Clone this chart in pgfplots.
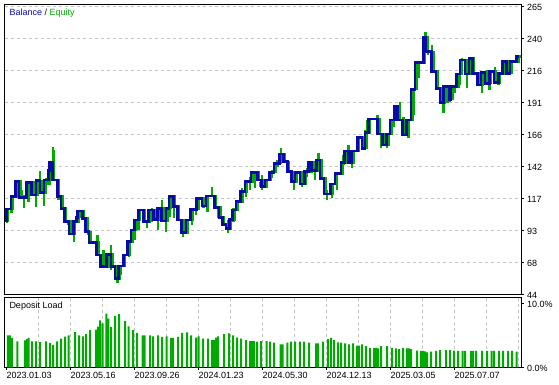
\documentclass[border=0pt]{standalone}
\usepackage{fontspec}
\setmainfont{Liberation Sans}
\usepackage{pgfplots}
\pgfplotsset{compat=1.18}
\usepackage{pgfplotstable}

\definecolor{balblue}{RGB}{10,10,165}
\definecolor{eqgreen}{RGB}{0,170,0}
\definecolor{gridgray}{RGB}{195,195,195}

\pgfplotstableread{
x v
5.5 100.0
6.5 109.2
11 118.8
15.7 130.2
19 118.2
26.7 129.4
31.7 120.0
36 130.9
40 121.7
44 131.5
48.3 138.6
49.3 144.8
52.3 131.5
57.3 118.7
61 109.8
64.3 99.5
69 90.0
73.3 99.5
76.7 102.9
77.7 107.7
82.3 102.1
85.7 91.8
89 83.4
96.7 73.9
100.7 65.0
106.7 74.5
111 65.0
115 56.0
118.3 65.5
123.3 73.9
127.7 84.1
131 93.1
134.3 100.8
138.3 108.5
143.3 99.5
148.3 108.5
153.3 101.3
157.7 109.8
161.7 100.0
166 109.8
169 118.7
173.3 111.0
177.3 100.8
181.7 91.3
186 100.8
190.7 109.0
196.7 117.4
202 111.5
206 119.2
214.3 110.5
219 102.9
222.3 97.2
226 94.1
229.3 101.3
232.7 108.5
236 114.8
240.7 122.5
245 130.2
251 137.1
257.3 131.5
261.7 126.3
265 131.5
269.3 137.4
274 144.3
279.3 151.4
283.3 145.5
287.3 137.8
291.7 130.2
295 137.1
300 128.4
304.3 137.8
308.3 144.8
311.7 138.6
316.7 146.8
320 132.8
324 120.7
330.7 128.4
335 136.6
341 144.8
344.3 153.7
348.3 144.8
351.7 153.7
357.3 164.2
362 155.8
365 167.8
368.3 178.3
377.7 166.8
382.3 158.3
386.7 166.8
390 177.5
394.3 188.3
397.7 177.5
402.3 166.0
406.7 177.5
411 201.1
415 221.5
423.3 241.0
426 229.9
431.7 214.6
436 201.8
440 190.8
443.3 203.1
449 193.4
451 203.1
456.7 212.8
460 223.6
465 212.8
469 224.9
472.3 213.4
477.3 204.4
481 213.8
485 205.7
489.3 214.6
494 206.1
498.3 213.4
502.3 222.3
506.7 213.4
510 222.3
516.7 226.1
519 226.1
}\balance

\pgfplotstableread{
x lo hi
7 98.5 110.0
11.7 106.4 119.2
20 117.7 131.5
21.7 116.9 123.8
24 110.2 120.0
28.3 114.8 127.6
36 111.0 123.8
40 122.3 138.6
44 111.5 127.6
46.5 127.6 133.0
49.3 127.6 139.2
52.7 141.5 156.6
53.7 139.2 154.5
58.3 116.1 120.0
68.3 96.9 100.8
74 84.1 99.3
79 99.3 106.9
86.7 91.6 102.3
88 89.3 96.9
97.5 79.3 89.3
103.3 65.0 77.8
111 62.4 81.6
117.5 52.2 65.0
120.5 58.6 65.5
129 72.4 83.1
135 85.4 93.1
138.3 93.1 100.8
146.7 94.6 98.5
151.7 99.5 110.0
157.7 93.1 101.6
161.7 103.3 116.1
165.7 91.8 102.3
170 103.3 120.0
174 102.1 111.0
183 88.0 98.5
186.5 90.8 96.9
191.7 96.9 108.5
196 104.6 116.9
203.3 109.8 118.7
207.3 107.2 117.4
211.7 118.7 126.3
218.3 102.1 111.5
228 90.6 100.8
233.3 99.5 109.8
236.7 108.5 113.6
241.7 116.1 125.1
246 118.7 128.9
250 123.8 134.0
255 125.1 137.8
260 126.3 130.2
261.7 123.8 135.3
266.7 126.3 131.5
271.7 132.8 139.2
277.5 141.7 146.8
280.7 145.5 155.8
286.7 139.2 146.8
294 123.8 132.8
301.7 126.3 131.5
306.7 134.0 140.5
311.7 136.6 145.5
315 131.5 140.5
318.3 143.0 152.0
321 131.5 141.7
326.7 116.1 123.8
331.7 117.4 126.3
336.7 123.8 136.6
343.3 143.0 150.7
348.3 144.3 158.3
351.7 140.5 146.8
356.7 153.2 160.9
358.3 154.5 164.7
365 159.6 169.8
367.5 168.3 177.5
377.5 169.8 181.4
381 155.8 167.3
386.7 155.8 163.5
393.3 172.4 177.5
399.7 180.1 191.6
403.3 169.8 180.1
408.3 163.5 172.4
414 181.4 201.8
418.3 209.5 221.0
425.5 228.7 245.3
428 227.4 235.1
431.7 221.0 235.1
437.5 200.5 215.9
443.3 182.7 198.0
447.5 190.3 204.4
449.5 191.6 200.5
454.5 198.0 203.1
459.5 204.4 213.4
461.7 215.9 224.9
466.7 201.8 213.4
471.7 212.1 224.9
478.3 204.4 213.4
481.7 198.0 210.7
486.7 204.4 215.9
489.3 200.5 213.4
495 208.2 218.4
498.3 204.4 213.4
503.3 212.1 222.3
508.3 213.4 223.6
512 217.2 222.3
517.3 223.6 227.4
}\spikes

\pgfplotsset{
  mtstyle/.style={
    scale only axis, width=516pt,
    xmin=5, xmax=521,
    axis line style={line width=1pt, black},
    tick align=outside, major tick length=3pt, minor tick length=0pt,
    tick style={black, line width=0.6pt},
    minor xtick={38.5,70.5,...,518.5},
    xminorgrids,
    minor grid style={gridgray, dash pattern=on 3pt off 3pt, line width=0.9pt},
    major grid style={gridgray, dash pattern=on 3pt off 3pt, line width=0.9pt},
    ytick pos=right, yticklabel pos=right,
    every tick label/.append style={font=\fontsize{9}{10}\selectfont, inner sep=0pt},
    yticklabel style={anchor=west, xshift=3pt, yshift=-1pt},
  }
}

\begin{document}
\begin{tikzpicture}
\useasboundingbox (0,0) rectangle (559pt,384pt);
% top panel
\begin{axis}[mtstyle,
  at={(5pt,90pt)}, anchor=south west, height=290pt,
  ymin=44, ymax=266.5,
  xtick=\empty,
  ytick={44,68.556,93.111,117.667,142.222,166.778,191.333,215.889,240.444,265},
  yticklabels={44,68,93,117,142,166,191,216,240,265},
  ymajorgrids,
]
\addplot[draw=none, mark=none, forget plot,
  error bars/.cd, y dir=plus, y explicit, error mark=none,
  error bar style={line width=2.4pt, draw=eqgreen, solid}]
  table[x=x, y=lo, y error plus expr=\thisrow{hi}-\thisrow{lo}] {\spikes};
\addplot[const plot, eqgreen, line width=2.4pt, mark=none] table[x expr=\thisrow{x}+1.7, y=v] {\balance};
\addplot[const plot, balblue, line width=2.6pt, line join=miter, mark=none] table[x=x, y=v] {\balance};
\end{axis}
% bottom panel
\begin{axis}[mtstyle,
  at={(5pt,16.7pt)}, anchor=south west, height=70pt,
  ymin=0, ymax=10.94,
  ytick={0,10}, yticklabels={0.0\%,10.0\%},
  xtick pos=bottom,
  xtick={6.5,70.5,...,454.5},
  xticklabels={2023.01.03,2023.05.16,2023.09.26,2024.01.23,2024.05.30,2024.12.13,2025.03.05,2025.07.07},
  xticklabel style={anchor=north west, yshift=-1.4pt},
]
\addplot[ybar, bar width=2pt, fill=eqgreen, draw=none] coordinates {
(8,5.0) (10,5.0) (12,4.6) (17.5,4.05) (25,4.2) (27,4.4) (28.5,4.6) (32,4.05) (36,4.05) (40,3.95)
(46,4.05) (50,3.8) (53,3.5) (57,4.05) (61,4.5) (65,4.8) (68.5,5.0) (75,5.5) (79,5.0) (83,4.85)
(86,5.2) (90,5.8) (96,5.9) (98,6.35) (100,7.35) (102.7,6.85) (106.3,8.4) (108.3,7.6) (111,6.3) (115,8.0)
(119,8.3) (125,7.2) (128.7,6.4) (133,5.8) (137,5.4) (142.5,5.0) (144.5,5.0) (150,5.0) (153,4.85) (158,5.0)
(162,4.75) (166.5,4.85) (171,4.6) (173,4.6) (178,4.75) (182,5.4) (187,5.45) (191,5.0) (196,4.65) (198.5,4.85)
(203,4.5) (208,4.5) (212,4.25) (214,4.25) (216,4.65) (218,4.85) (224,5.2) (229,5.3) (233,5.0) (237,4.65)
(241,4.5) (246,4.25) (250,4.1) (252,4.1) (254,4.1) (257,4.0) (261,4.1) (266.5,4.1) (270,4.0) (274,3.85)
(280.5,3.6) (282.5,3.6) (287.3,3.85) (291,4.0) (295,4.0) (299.8,4.0) (304,4.0) (309,3.85) (316,3.75) (318,3.75)
(323,4.0) (328,4.4) (331,4.6) (334,4.25) (338,3.9) (341,3.85) (345,3.75) (349,3.6) (353,3.75) (357,3.4)
(359,3.4) (362,3.6) (366,3.3) (370,3.05) (374,3.05) (376,3.05) (378,2.95) (381,3.3) (387,3.3) (392,3.05)
(396,2.95) (399,2.85) (403,3.05) (407,2.95) (409,2.95) (411,2.85) (417,2.6) (421,2.55) (423,2.55) (425,2.5)
(427,2.35) (431,2.45) (436,2.55) (440,2.7) (446,2.7) (450,2.7) (454,2.6) (458,2.55) (462.5,2.55) (465,2.55)
(471,2.55) (473,2.55) (476,2.55) (482,2.55) (487,2.55) (491.5,2.55) (494,2.55) (499,2.55) (503,2.55) (508,2.55)
(512,2.55) (516.5,2.45)
};
\end{axis}
\node[anchor=base west, inner sep=0pt, font=\fontsize{9}{10}\selectfont] at (9.3pt,368.5pt)
  {\textcolor{balblue}{Balance} / \textcolor{eqgreen}{Equity}};
\node[anchor=base west, inner sep=0pt, font=\fontsize{9}{10}\selectfont] at (9.3pt,75.6pt)
  {Deposit Load};
\end{tikzpicture}
\end{document}
